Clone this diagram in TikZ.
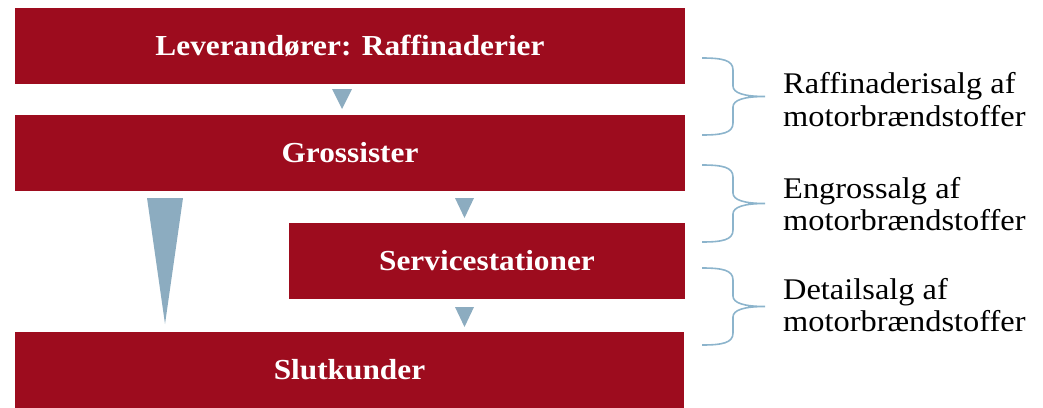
\documentclass[tikz,border=0pt]{standalone}
\usepackage{fontspec}
\setmainfont{Liberation Serif}[FakeStretch=1.08]
\definecolor{boxred}{RGB}{157,12,30}
\definecolor{pilblue}{RGB}{140,172,192}
\definecolor{bracecol}{RGB}{140,180,204}

\begin{document}
\begin{tikzpicture}
[
x=1pt,y=-1pt,
rodboks/.style={fill=boxred,text=white,inner sep=0pt,minimum height=76pt,
            font=\bfseries\fontsize{29}{32}\selectfont},
pil/.style={fill=pilblue},
salgtekst/.style={anchor=west,align=left,inner sep=0pt,
            font=\fontsize{30}{32.5}\selectfont},
salgbrace/.pic={
            \draw[bracecol,line width=1.6pt]
            (0,0) .. controls (20,0) and (31,2) .. (31,12) -- (31,28)
            .. controls (31,35) and (42,38.5) .. (63,38.5)
            .. controls (42,38.5) and (31,42) .. (31,49) -- (31,65)
            .. controls (31,75) and (20,77) .. (0,77);
},
]
\useasboundingbox (0,0) rectangle (1043,407);

%Place the nodes
\node[rodboks,minimum width=670pt] (lev) at (350,46) {Leverandører: Raffinaderier};
\node[rodboks,minimum width=670pt] (gro) at (350,153) {Grossister};
\node[rodboks,minimum width=396pt] (ser) at (487,261) {Servicestationer};
\node[rodboks,minimum width=669pt] (slu) at (349.5,370) {Slutkunder};
\node[salgtekst] (raf) at (783,99.5) {Raffinaderisalg af\\motorbrændstoffer};
\node[salgtekst] (eng) at (783,204) {Engrossalg af\\motorbrændstoffer};
\node[salgtekst] (det) at (783,305) {Detailsalg af\\motorbrændstoffer};

%Draw the arrows
\fill[pil] (332,89) -- (352,89) -- (342,109) -- cycle;
\fill[pil] (455,198) -- (474,198) -- (464.5,218) -- cycle;
\fill[pil] (455,307) -- (474,307) -- (464.5,327) -- cycle;
\fill[pil] (147,198) -- (183,198) -- (165,324) -- cycle;

%Draw the braces
\pic at (702,58) {salgbrace};
\pic at (702,165) {salgbrace};
\pic at (702,268) {salgbrace};
\end{tikzpicture}
\end{document}
